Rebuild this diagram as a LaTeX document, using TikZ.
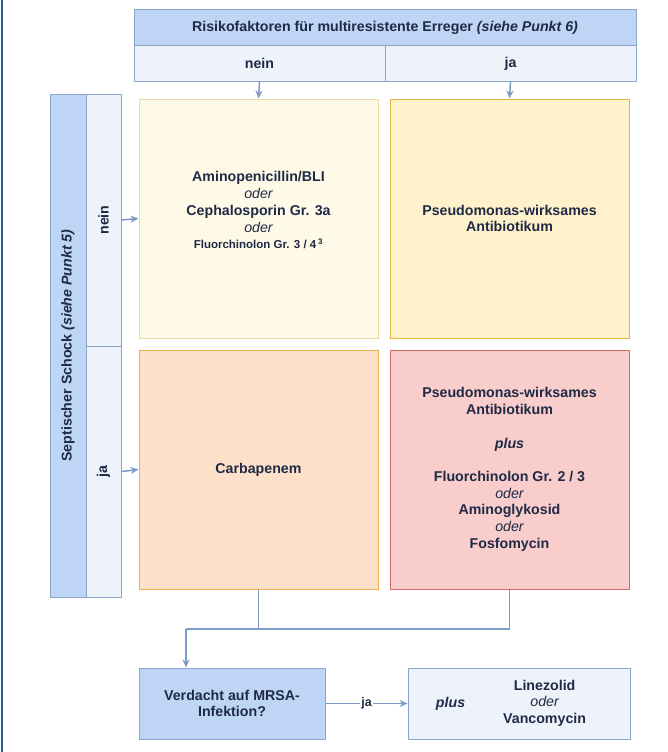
\documentclass[tikz,border=0pt]{standalone}
\usepackage{fontspec}
\setmainfont{Liberation Sans}
\usetikzlibrary{arrows.meta}
\definecolor{txt}{HTML}{1F2A44}
\definecolor{hdrfill}{HTML}{BFD5F6}
\definecolor{hdrline}{HTML}{8AA6CF}
\definecolor{subfill}{HTML}{EEF3FB}
\definecolor{arr}{HTML}{7D9BC6}
\definecolor{frame}{HTML}{2B5E9C}
\definecolor{creamfill}{HTML}{FFF9E8}
\definecolor{creamline}{HTML}{EFD9A2}
\definecolor{yelfill}{HTML}{FFF1CB}
\definecolor{yelline}{HTML}{E3B446}
\definecolor{peachfill}{HTML}{FDE0CA}
\definecolor{peachline}{HTML}{E9B24E}
\definecolor{redfill}{HTML}{F8CDCC}
\definecolor{redline}{HTML}{D66A67}
\tikzset{
  cell/.style={draw=hdrline, line width=1pt, rectangle, inner sep=0pt, align=center, text=txt,
    font=\bfseries\fontsize{14.2}{16.8}\selectfont},
  hdr/.style={cell, fill=hdrfill},
  sub/.style={cell, fill=subfill},
  conn/.style={draw=arr, line width=1.5pt},
  arrow/.style={conn, -{Stealth[length=8pt,width=7pt]}},
}
\begin{document}
\begin{tikzpicture}[x=1pt,y=-1pt]
\useasboundingbox (0,0) rectangle (668,752);
\fill[white] (0,0) rectangle (668,752);
\draw[frame, line width=2pt] (2,0) coordinate (fa) -- (2,752) coordinate (fb);

% header
\node[hdr, minimum width=502pt, minimum height=36pt] (h) at (385,27.5)
  {Risikofaktoren für multiresistente Erreger \textit{(siehe Punkt 6)}};
\node[sub, minimum width=251pt, minimum height=36pt] (hn) at (259.5,63.5) {nein};
\node[sub, minimum width=251pt, minimum height=36pt] (hj) at (510.5,63.5) {ja};

% left column
\node[hdr, rotate=90, minimum width=503pt, minimum height=36pt] (s) at (68,345.5)
  {Septischer Schock \textit{(siehe Punkt 5)}};
\node[sub, rotate=90, minimum width=252pt, minimum height=35pt] (sn) at (103.5,220) {nein};
\node[sub, rotate=90, minimum width=251pt, minimum height=35pt] (sj) at (103.5,471.5) {ja};

% matrix boxes
\node[cell, draw=creamline, fill=creamfill, minimum width=239pt, minimum height=239pt] (b1) at (258.5,218.5)
  {Aminopenicillin/BLI\\
   {\mdseries\itshape oder}\\
   Cephalosporin Gr. 3a\\
   {\mdseries\itshape oder}\\
   {\fontsize{11.5}{16.8}\selectfont Fluorchinolon Gr. 3 / 4\,\textsuperscript{3}}\\ \mbox{}};
\node[cell, draw=yelline, fill=yelfill, minimum width=239pt, minimum height=239pt] (b2) at (509.5,218.5)
  {Pseudomonas-wirksames\\ Antibiotikum};
\node[cell, draw=peachline, fill=peachfill, minimum width=239pt, minimum height=239pt] (b3) at (258.5,469.5)
  {Carbapenem};
\node[cell, draw=redline, fill=redfill, minimum width=239pt, minimum height=239pt] (b4) at (509.5,469.5)
  {Pseudomonas-wirksames\\ Antibiotikum\\[17pt]
   \textit{plus}\\[16pt]
   Fluorchinolon Gr. 2 / 3\\
   {\mdseries\itshape oder}\\
   Aminoglykosid\\
   {\mdseries\itshape oder}\\
   Fosfomycin};

% bottom
\node[hdr, minimum width=186pt, minimum height=71pt] (m) at (232,703.5)
  {Verdacht auf MRSA-\\ Infektion?};
\node[sub, minimum width=222pt, minimum height=71pt] (r) at (519,703.5)
  {\textit{plus}\hspace{38pt}\begin{tabular}{@{}c@{}}Linezolid\\[-0.5pt] {\mdseries\itshape oder}\\[-0.5pt] Vancomycin\end{tabular}\hspace{16pt}};

% connectors
\draw[arrow] (hn.south) -- (b1.north);
\draw[arrow] (hj.south) -- (b2.north);
\draw[arrow] (sn.south) -- (b1.west);
\draw[arrow] (sj.south) -- (b3.west);
\coordinate (j) at (186,629);
\draw[conn] (b3.south) |- (j);
\draw[conn] (b4.south) |- (j);
\draw[arrow] (j) -- (j |- m.north);
\draw[arrow] (m.east) -- node[pos=0.5, fill=white, inner sep=1pt, text=txt, font=\bfseries\fontsize{12.5}{14}\selectfont] {ja} (r.west);
\end{tikzpicture}
\end{document}
